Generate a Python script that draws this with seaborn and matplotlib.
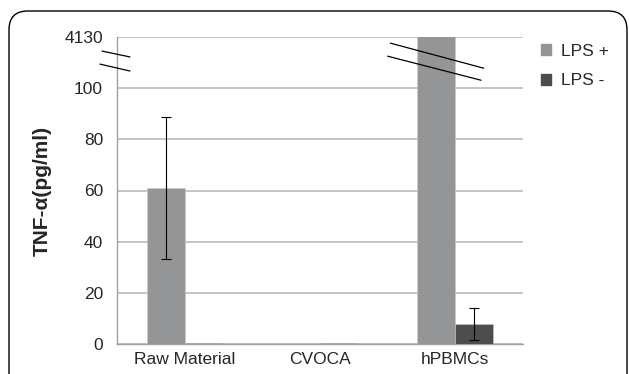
import pandas as pd
import numpy as np
import matplotlib.pyplot as plt
import seaborn as sns
from matplotlib.patches import FancyBboxPatch
from matplotlib.lines import Line2D

sns.set_style('white')
plt.rcParams['font.family'] = ['Liberation Sans', 'DejaVu Sans']

samples = ['Raw Material', 'CVOCA', 'hPBMCs']
groups = ['LPS +', 'LPS -']
lps_pos = [61.0, 0.2, 4130.0]
lps_pos_err = [27.6, 0.0, 0.0]
lps_neg = [0.3, 0.2, 7.8]
lps_neg_err = [0.0, 0.0, 6.3]
y_ticks = [0, 20, 40, 60, 80, 100, 120]
y_ticklabels = ['0', '20', '40', '60', '80', '100', '4130']
colors = ['#939598', '#4d4d4f']

df = pd.DataFrame({
    'Sample': samples * 2,
    'Group': [groups[0]] * 3 + [groups[1]] * 3,
    'Value': lps_pos + lps_neg,
    'Err': lps_pos_err + lps_neg_err,
})

fig = plt.figure(figsize=(6.29, 3.74), dpi=100)
ax = fig.add_axes([117 / 629, 1 - 344 / 374, 406 / 629, 307 / 374])

sns.barplot(data=df, x='Sample', y='Value', hue='Group', palette=colors,
            width=0.56, errorbar=None, legend=False, ax=ax,
            edgecolor='#c8c8c8', linewidth=0.4, zorder=3)

# error bars on top of the bars
for cont, errs in zip(ax.containers, [lps_pos_err, lps_neg_err]):
    for bar, e in zip(cont, errs):
        if e > 0:
            ax.errorbar(bar.get_x() + bar.get_width() / 2, bar.get_height(), yerr=e,
                        color='black', lw=0.8, capsize=3.5, capthick=0.8, zorder=4)

ax.set_ylim(0, 120)
ax.set_xlim(-0.5, 2.5)
ax.set_yticks(y_ticks)
ax.set_yticklabels(y_ticklabels)
ax.yaxis.grid(True, color='#b5b5b5', lw=1.1, zorder=0)
ax.set_axisbelow(True)
ax.set_xlabel('')
ax.set_ylabel('TNF-α(pg/ml)', fontsize=15, fontweight='bold', labelpad=9)
ax.tick_params(axis='y', length=5, color='#a0a0a0', labelsize=12.5, pad=5)
ax.tick_params(axis='x', length=0, labelsize=12.5, pad=6)
ax.set_xticks([-0.5, 0.5, 1.5, 2.5], minor=True)
ax.tick_params(axis='x', which='minor', length=5, color='#a0a0a0')
for s in ['top', 'right']:
    ax.spines[s].set_visible(False)
for s in ['left', 'bottom']:
    ax.spines[s].set_color('#a0a0a0')
    ax.spines[s].set_linewidth(1.0)

# axis break marks
tr = ax.get_yaxis_transform()
ax.add_line(Line2D([-0.037, 0.032], [114.5, 112.2], transform=tr, color='black',
                   lw=0.9, clip_on=False, zorder=5))
ax.add_line(Line2D([-0.042, 0.032], [109.4, 106.7], transform=tr, color='black',
                   lw=0.9, clip_on=False, zorder=5))

# bar break marks on the tall bar
tall = ax.containers[0][2]
cx = tall.get_x() + tall.get_width() / 2
ax.plot([cx - 0.34, cx + 0.35], [117.6, 107.8], color='black', lw=0.9, zorder=5)
ax.plot([cx - 0.36, cx + 0.33], [112.5, 103.1], color='black', lw=0.9, zorder=5)

# legend
handles = [plt.Rectangle((0, 0), 1, 1, color=c) for c in colors]
fig.legend(handles, groups, loc='upper left', bbox_to_anchor=(525 / 629, 1 - 28 / 374),
           frameon=False, fontsize=12.5, handlelength=0.6, handleheight=0.6,
           handletextpad=0.6, labelspacing=0.85)

# rounded frame around the figure
frame = FancyBboxPatch((9 / 629, -0.1), 618 / 629, 1.1 - 11 / 374,
                       boxstyle='round,pad=0,rounding_size=0.03',
                       transform=fig.transFigure, fill=False, edgecolor='black',
                       lw=1.0, mutation_aspect=629 / 374)
fig.patches.append(frame)

fig.savefig('out.png', dpi=100)
